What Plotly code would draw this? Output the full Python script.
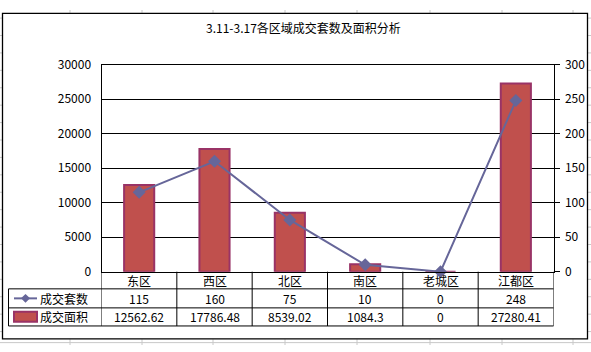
import plotly.graph_objects as go

# ---- data ----
categories = ["东区", "西区", "北区", "南区", "老城区", "江都区"]
deal_counts = [115, 160, 75, 10, 0, 248]
deal_areas = [12562.62, 17786.48, 8539.02, 1084.3, 0, 27280.41]
series_names = ["成交套数", "成交面积"]
title_text = "3.11-3.17各区域成交套数及面积分析"
left_ticks = [0, 5000, 10000, 15000, 20000, 25000, 30000]
right_ticks = [0, 50, 100, 150, 200, 250, 300]

W, H = 591, 352
FONT = "Noto Sans CJK SC, DejaVu Sans, sans-serif"
BAR_FILL = "#C0504D"
BAR_EDGE = "#993366"
LINE_COL = "#666699"


def py(ypix):
    """pixel row (from top) -> paper y"""
    return 1 - ypix / H


def px(xpix):
    return xpix / W


plot_left, plot_right = 101.5, 553.5
plot_top, plot_bottom = 57.5, 275.0

fig = go.Figure()
fig.add_trace(go.Bar(
    x=list(range(len(categories))), y=deal_areas, name=series_names[1],
    marker=dict(color=BAR_FILL, line=dict(color=BAR_EDGE, width=2)),
    width=0.4, yaxis="y", showlegend=False,
))
fig.add_trace(go.Scatter(
    x=list(range(len(categories))), y=deal_counts, name=series_names[0],
    mode="lines+markers", line=dict(color=LINE_COL, width=2),
    marker=dict(symbol="diamond", size=10, color=LINE_COL),
    yaxis="y2", showlegend=False, cliponaxis=False,
))

shapes = []
annotations = []

# sheet gridlines (outside the chart)
GRID = "#C8C8C8"
for xv in [70, 142, 213, 285, 357, 430, 502, 573]:
    shapes.append(dict(type="line", xref="paper", yref="paper", x0=px(xv), x1=px(xv),
                       y0=py(0), y1=py(3), line=dict(color=GRID, width=1), layer="below"))
    shapes.append(dict(type="line", xref="paper", yref="paper", x0=px(xv), x1=px(xv),
                       y0=py(346), y1=py(352), line=dict(color=GRID, width=1), layer="below"))
shapes.append(dict(type="line", xref="paper", yref="paper", x0=0, x1=1,
                   y0=py(349.5), y1=py(349.5), line=dict(color=GRID, width=1), layer="below"))
yy = 8.5
while yy < 346:
    shapes.append(dict(type="line", xref="paper", yref="paper", x0=px(588), x1=1,
                       y0=py(yy), y1=py(yy), line=dict(color=GRID, width=1), layer="below"))
    shapes.append(dict(type="line", xref="paper", yref="paper", x0=0, x1=px(2),
                       y0=py(yy), y1=py(yy), line=dict(color=GRID, width=1), layer="below"))
    yy += 18.3

# chart border
shapes.append(dict(type="rect", xref="paper", yref="paper", x0=px(2.5), x1=px(587.5),
                   y0=py(345.5), y1=py(3.5), line=dict(color="black", width=1.3),
                   fillcolor="rgba(0,0,0,0)"))

# data table
row1_top, row2_top, table_bottom = 293.0, 313.0, 332.0
table_left = 8.5
LC = dict(color="black", width=1)
for yv in [row1_top, row2_top, table_bottom]:
    shapes.append(dict(type="line", xref="paper", yref="paper", x0=px(table_left), x1=px(plot_right),
                       y0=py(yv), y1=py(yv), line=LC))
shapes.append(dict(type="line", xref="paper", yref="paper", x0=px(table_left), x1=px(table_left),
                   y0=py(row1_top), y1=py(table_bottom), line=LC))
for i in range(len(categories) + 1):
    shapes.append(dict(type="line", xref="x", yref="paper", x0=i - 0.5, x1=i - 0.5,
                       y0=py(plot_bottom), y1=py(table_bottom), line=LC))

# legend keys in table
shapes.append(dict(type="line", xref="paper", yref="paper", x0=px(14), x1=px(37),
                   y0=py(303), y1=py(303), line=dict(color=LINE_COL, width=2)))
shapes.append(dict(type="path", xref="paper", yref="paper",
                   path=f"M {px(25.5)} {py(298.5)} L {px(30)} {py(303)} L {px(25.5)} {py(307.5)} L {px(21)} {py(303)} Z",
                   fillcolor=LINE_COL, line=dict(color=LINE_COL, width=0)))
shapes.append(dict(type="rect", xref="paper", yref="paper", x0=px(14), x1=px(37),
                   y0=py(327.5), y1=py(317), fillcolor=BAR_FILL, line=dict(color=BAR_EDGE, width=2)))


def ann(x, y, text, xref="paper", xanchor="center"):
    annotations.append(dict(x=x, y=y, xref=xref, yref="paper", text=text, showarrow=False,
                            xanchor=xanchor, yanchor="middle", font=dict(size=12),
                            borderpad=0))


for i, cat in enumerate(categories):
    ann(i, py(284), cat, xref="x")
    ann(i, py(303), str(deal_counts[i]), xref="x")
    ann(i, py(322.5), str(deal_areas[i]), xref="x")
ann(px(39), py(303), series_names[0], xanchor="left")
ann(px(39), py(322.5), series_names[1], xanchor="left")
ann(px(303), py(18), title_text)

fig.update_layout(
    width=W, height=H, margin=dict(l=0, r=0, t=0, b=0),
    paper_bgcolor="white", plot_bgcolor="white",
    font=dict(family=FONT, size=12, color="black"),
    xaxis=dict(domain=[px(plot_left), px(plot_right)], range=[-0.5, len(categories) - 0.5],
               showticklabels=False, ticks="", showgrid=False, zeroline=False,
               showline=True, linecolor="black", linewidth=1, mirror=True, fixedrange=True),
    yaxis=dict(domain=[py(plot_bottom), py(plot_top)], range=[0, 30000],
               tickvals=left_ticks, ticktext=[str(v) for v in left_ticks],
               showgrid=True, gridcolor="black", gridwidth=1, zeroline=False,
               showline=True, linecolor="black", linewidth=1, ticks="",
               ticklabelstandoff=7, fixedrange=True),
    yaxis2=dict(domain=[py(plot_bottom), py(plot_top)], range=[0, 300], overlaying="y", side="right",
                anchor="x",
                tickvals=right_ticks, ticktext=[str(v) for v in right_ticks],
                showgrid=False, zeroline=False, showline=True, linecolor="black", linewidth=1,
                ticks="outside", ticklen=5, tickcolor="black", tickwidth=1,
                ticklabelstandoff=3, fixedrange=True),
    shapes=shapes, annotations=annotations,
    bargap=0.6,
)

fig.write_html("out.html", config={"displayModeBar": False})
